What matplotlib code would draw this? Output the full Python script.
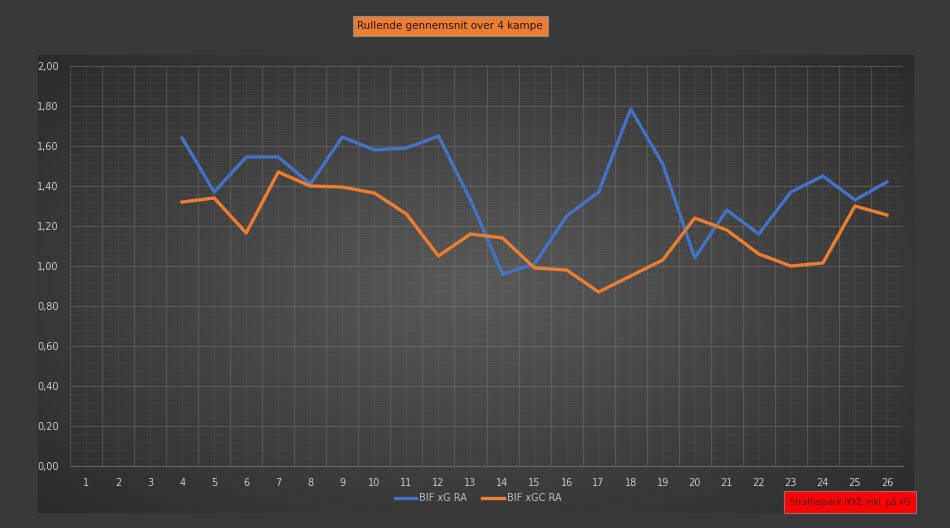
import numpy as np
import matplotlib
matplotlib.use("Agg")
import matplotlib.pyplot as plt
from matplotlib.ticker import MultipleLocator, FuncFormatter

rounds = list(range(1, 27))
xg_ra = [np.nan, np.nan, np.nan, 1.64, 1.37, 1.545, 1.545, 1.41, 1.645, 1.58, 1.59, 1.65, 1.33,
         0.96, 1.01, 1.25, 1.37, 1.785, 1.51, 1.04, 1.28, 1.16, 1.37, 1.45, 1.33, 1.42]
xgc_ra = [np.nan, np.nan, np.nan, 1.32, 1.34, 1.165, 1.47, 1.40, 1.395, 1.365, 1.26, 1.05, 1.16,
          1.14, 0.99, 0.98, 0.87, 0.95, 1.03, 1.24, 1.18, 1.06, 1.00, 1.015, 1.30, 1.255]

fig = plt.figure(figsize=(9.5, 5.28), dpi=100)
fig.patch.set_facecolor('#393939')

# chart panel with radial gradient
W, H = 950, 528
px0, px1, py0, py1 = 38, 914, 55, 513
bg = fig.add_axes([px0 / W, 1 - py1 / H, (px1 - px0) / W, (py1 - py0) / H])
yy, xx = np.mgrid[-1:1:300j, -1:1:500j]
r = np.sqrt((xx * 0.95) ** 2 + (yy * 0.9) ** 2)
shade = np.clip(1 - r / 1.35, 0, 1)
lo, hi = np.array([0.16, 0.16, 0.16]), np.array([0.35, 0.35, 0.35])
img = lo + (hi - lo) * shade[..., None]
bg.imshow(img, aspect='auto', extent=[0, 1, 0, 1])
bg.set_axis_off()

ax = fig.add_axes([70 / W, 62 / H, 833 / W, 400 / H])
ax.patch.set_alpha(0)
ax.set_xlim(0.5, 26.5)
ax.set_ylim(0, 2.0)

ax.set_yticks(np.arange(0, 2.01, 0.2))
ax.yaxis.set_minor_locator(MultipleLocator(0.04))
ax.yaxis.set_major_formatter(FuncFormatter(lambda v, p: f"{v:.2f}".replace('.', ',')))
ax.set_xticks(rounds)
ax.set_xticks(np.arange(0.5, 27, 1), minor=True)

ax.grid(True, which='major', axis='y', color='#8a8a8a', alpha=0.38, linewidth=0.8)
ax.grid(True, which='minor', axis='y', color='#8a8a8a', alpha=0.14, linewidth=0.6)
ax.grid(True, which='minor', axis='x', color='#8a8a8a', alpha=0.32, linewidth=0.8)
ax.grid(True, which='major', axis='x', color='#8a8a8a', alpha=0.13, linewidth=0.6)
ax.set_axisbelow(True)

for s in ax.spines.values():
    s.set_visible(False)
ax.spines['bottom'].set_visible(True)
ax.spines['bottom'].set_color('#666666')
ax.tick_params(which='both', length=0)
ax.tick_params(axis='both', labelsize=7, colors='#c8c8c8')
ax.tick_params(axis='y', pad=8)
ax.tick_params(axis='x', pad=9)

ax.plot(rounds, xg_ra, color='#4472c4', linewidth=2.4, label='BIF xG RA', solid_joinstyle='round')
ax.plot(rounds, xgc_ra, color='#ed7d31', linewidth=2.4, label='BIF xGC RA', solid_joinstyle='round')

leg = fig.legend(loc='center', bbox_to_anchor=(478 / W, 1 - 498 / H), ncol=2, frameon=False,
                 fontsize=7, labelcolor='#bdbdbd', handlelength=2.2, handletextpad=0.3,
                 columnspacing=1.6)

fig.text(450 / W, 1 - 26 / H, 'Rullende gennemsnit over 4 kampe', ha='center', va='center',
         fontsize=7.5, color='#2a1408',
         bbox=dict(boxstyle='square,pad=0.45', facecolor='#ed7d31', edgecolor='#8a8a8a', linewidth=0.8))

fig.text(850 / W, 1 - 502 / H, 'Straffespark IKKE inkl. på xG', ha='center', va='center',
         fontsize=6, color='#5a0000',
         bbox=dict(boxstyle='square,pad=0.7', facecolor='#ff0000', edgecolor='#9a6a6a', linewidth=0.8))

fig.savefig('out.png', dpi=100, facecolor=fig.get_facecolor())
